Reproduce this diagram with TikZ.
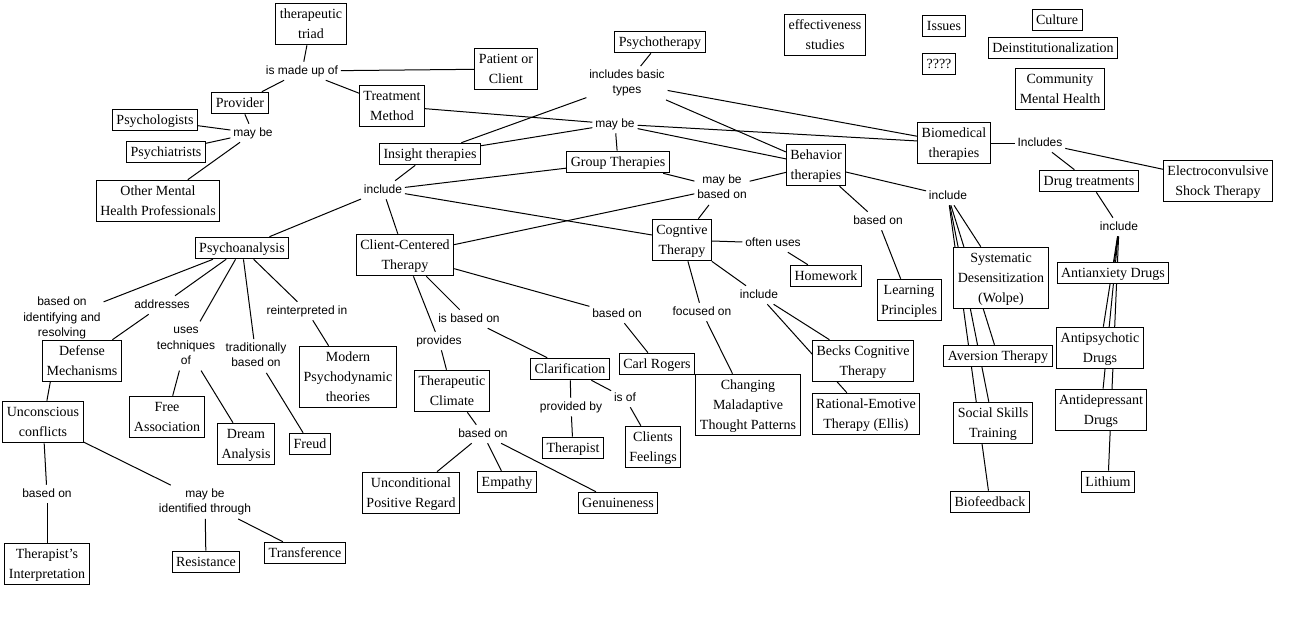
\documentclass[tikz,border=0pt]{standalone}
\usepackage{fontspec}
\setmainfont{Liberation Serif}
\newfontfamily\labfam{Liberation Sans}
\newcommand\boxfont{\fontsize{10.5}{15}\selectfont}
\newcommand\labfont{\labfam\fontsize{9}{11.5}\selectfont}
\pgfdeclarelayer{bg}
\pgfsetlayers{bg,main}
\tikzset{
  cbox/.style={draw, fill=white, line width=0.75pt, font=\boxfont, align=center,
    inner xsep=3pt, inner ysep=0.6pt},
  clab/.style={font=\labfont, align=center, inner xsep=2pt, inner ysep=1pt},
  edge/.style={line width=0.75pt}
}
\begin{document}
\begin{tikzpicture}[x=0.75pt,y=-0.75pt]
\useasboundingbox (0,0) rectangle (1315,626);
% boxes
\node[cbox] (tt) at (311,24) {\strut therapeutic\\triad\strut};
\node[cbox] (pat) at (506,69) {\strut Patient or\\Client\strut};
\node[cbox] (prov) at (240,103) {\strut Provider};
\node[cbox] (psyl) at (155,120) {\strut Psychologists};
\node[cbox] (psyc) at (166,152) {\strut Psychiatrists};
\node[cbox] (omh) at (158,201) {\strut Other Mental\\Health Professionals\strut};
\node[cbox] (tm) at (392,106) {\strut Treatment\\Method\strut};
\node[cbox] (pt) at (660,42) {\strut Psychotherapy};
\node[cbox] (ins) at (430,154) {\strut Insight therapies};
\node[cbox] (grp) at (618,162) {\strut Group Therapies};
\node[cbox] (beh) at (816,165) {\strut Behavior\\therapies\strut};
\node[cbox] (bio) at (954,143) {\strut Biomedical\\therapies\strut};
\node[cbox] (drug) at (1089,181) {\strut Drug treatments};
\node[cbox] (ect) at (1218,181) {\strut Electroconvulsive\\Shock Therapy\strut};
\node[cbox] (eff) at (825,35) {\strut effectiveness\\studies\strut};
\node[cbox] (iss) at (944,26) {\strut Issues};
\node[cbox] (qq) at (939,64) {\strut ????};
\node[cbox] (cul) at (1057,20) {\strut Culture};
\node[cbox] (dei) at (1053,48) {\strut Deinstitutionalization};
\node[cbox] (cmh) at (1060,89) {\strut Community\\Mental Health\strut};
\node[cbox] (pa) at (242,248) {\strut Psychoanalysis};
\node[cbox] (cct) at (405,255) {\strut Client-Centered\\Therapy\strut};
\node[cbox] (cog) at (682,240) {\strut Cogntive\\Therapy\strut};
\node[cbox] (hw) at (826,276) {\strut Homework};
\node[cbox] (lp) at (909,300) {\strut Learning\\Principles\strut};
\node[cbox] (sd) at (1001,278) {\strut Systematic\\Desensitization\\(Wolpe)\strut};
\node[cbox] (av) at (998,356) {\strut Aversion Therapy};
\node[cbox] (ss) at (993,423) {\strut Social Skills\\Training\strut};
\node[cbox] (bf) at (990,502) {\strut Biofeedback};
\node[cbox] (aa) at (1113,273) {\strut Antianxiety Drugs};
\node[cbox] (ap) at (1100,348) {\strut Antipsychotic\\Drugs\strut};
\node[cbox] (ad) at (1101,410) {\strut Antidepressant\\Drugs\strut};
\node[cbox] (li) at (1108,482) {\strut Lithium};
\node[cbox] (bk) at (863,361) {\strut Becks Cognitive\\Therapy\strut};
\node[cbox] (re) at (866,414) {\strut Rational-Emotive\\Therapy (Ellis)\strut};
\node[cbox] (cm) at (748,405) {\strut Changing\\Maladaptive\\Thought Patterns\strut};
\node[cbox] (cr) at (657,364) {\strut Carl Rogers};
\node[cbox] (tc) at (452,391) {\strut Therapeutic\\Climate\strut};
\node[cbox] (cla) at (570,369) {\strut Clarification};
\node[cbox] (thp) at (573,448) {\strut Therapist};
\node[cbox] (cf) at (653,447) {\strut Clients\\Feelings\strut};
\node[cbox] (upr) at (411,493) {\strut Unconditional\\Positive Regard\strut};
\node[cbox] (emp) at (507,482) {\strut Empathy};
\node[cbox] (gen) at (618,503) {\strut Genuineness};
\node[cbox] (mod) at (348,377) {\strut Modern\\Psychodynamic\\theories\strut};
\node[cbox] (dm) at (82,361) {\strut Defense\\Mechanisms\strut};
\node[cbox] (uc) at (43,422) {\strut Unconscious\\conflicts\strut};
\node[cbox] (fa) at (167,417) {\strut Free\\Association\strut};
\node[cbox] (da) at (246,444) {\strut Dream\\Analysis\strut};
\node[cbox] (fr) at (310,444) {\strut Freud};
\node[cbox] (ti) at (47,564) {\strut Therapist{\char"0027}s\\Interpretation\strut};
\node[cbox] (res) at (206,562) {\strut Resistance};
\node[cbox] (tr) at (305,553) {\strut Transference};
% link labels
\node[clab] (l1) at (302,71) {\strut is made up of};
\node[clab] (l2) at (253,133) {\strut may be};
\node[clab] (l3) at (615,124) {\strut may be};
\node[clab] (l4) at (627,83) {\strut includes basic\\types\strut};
\node[clab] (l5) at (383,190) {\strut include};
\node[clab] (l6) at (722,188) {\strut may be\\based on\strut};
\node[clab] (l7) at (1040,143) {\strut Includes};
\node[clab] (l8) at (878,221) {\strut based on};
\node[clab] (l9) at (948,196) {\strut include};
\node[clab] (l10) at (1119,227) {\strut include};
\node[clab] (l11) at (773,243) {\strut often uses};
\node[clab] (l12) at (759,295) {\strut include};
\node[clab] (l13) at (702,312) {\strut focused on};
\node[clab] (l14) at (617,314) {\strut based on};
\node[clab] (l15) at (469,319) {\strut is based on};
\node[clab] (l16) at (439,341) {\strut provides};
\node[clab] (l17) at (571,407) {\strut provided by};
\node[clab] (l18) at (625,398) {\strut is of};
\node[clab] (l19) at (483,434) {\strut based on};
\node[clab] (l20) at (62,318) {\strut based on\\identifying and\\resolving\strut};
\node[clab] (l21) at (162,305) {\strut addresses};
\node[clab] (l22) at (186,346) {\strut uses\\techniques\\of\strut};
\node[clab] (l23) at (256,356) {\strut traditionally\\based on\strut};
\node[clab] (l24) at (307,311) {\strut reinterpreted in};
\node[clab] (l25) at (47,494) {\strut based on};
\node[clab] (l26) at (205,502) {\strut may be\\identified through\strut};
% connectors
\begin{pgfonlayer}{bg}
\fill[white] (0,0) rectangle (1315,626);
\foreach \a/\b in {tt/l1, l1/prov, l1/tm, l1/pat, prov/l2, l2/psyl, l2/psyc, l2/omh,
  tm/l3, l3/ins, l3/grp, l3/beh, l3/bio, pt/l4, l4/ins, l4/beh, l4/bio,
  ins/l5, l5/pa, l5/cct, l5/cog, l5/grp, grp/l6, l6/beh, l6/cct, l6/cog,
  beh/l8, l8/lp, beh/l9, l9/sd, l9/av, l9/ss, l9/bf, bio/l7, l7/drug, l7/ect,
  drug/l10, l10/aa, l10/ap, l10/ad, l10/li, cog/l11, l11/hw, cog/l13, l13/cm,
  cog/l12, l12/bk, l12/re, cct/l15, l15/cla, cct/l16, l16/tc, cct/l14, l14/cr,
  cla/l17, l17/thp, cla/l18, l18/cf, tc/l19, l19/upr, l19/emp, l19/gen,
  pa/l20, l20/uc, pa/l21, l21/dm, pa/l22, l22/fa, l22/da, pa/l23, l23/fr,
  pa/l24, l24/mod, uc/l25, l25/ti, uc/l26, l26/res, l26/tr}
  \draw[edge] (\a) -- (\b);
\end{pgfonlayer}
\end{tikzpicture}
\end{document}
